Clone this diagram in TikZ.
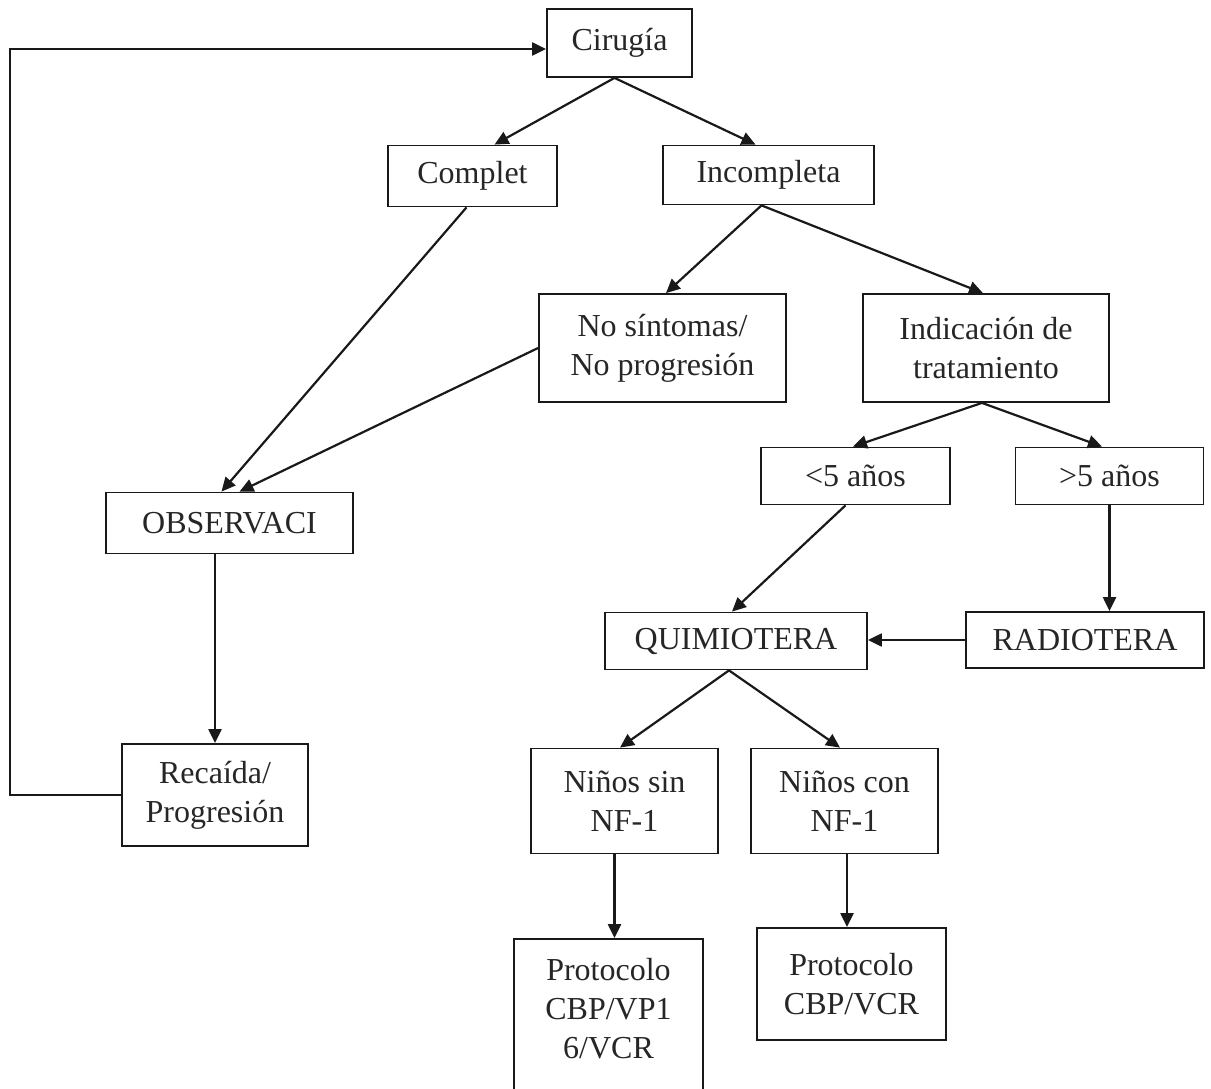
\documentclass[tikz,border=0pt]{standalone}
\usepackage{fontspec}
\setmainfont{Liberation Serif}
\usetikzlibrary{arrows.meta}
\tikzset{
  box/.style={draw=black!90, line width=1.8pt, fill=white, align=center, inner sep=2pt,
    font=\fontsize{32}{39}\selectfont, text=black!85},
  conn/.style={line width=2.2pt, draw=black!90, -{Triangle[length=14pt,width=13pt]}}
}
\begin{document}
\begin{tikzpicture}[x=1pt,y=-1pt]
\useasboundingbox (0,0) rectangle (1211,1089);
\clip (0,0) rectangle (1211,1089);
\node[box, minimum width=145pt, minimum height=68pt] (cir) at (619.5,43) {Cirugía};
\node[box, minimum width=169pt, minimum height=61pt] (com) at (472.5,176) {Complet};
\node[box, minimum width=211pt, minimum height=59pt] (inc) at (768.5,175) {Incompleta};
\node[box, minimum width=247pt, minimum height=108pt] (nos) at (662.5,348) {No síntomas/\\No progresión};
\node[box, minimum width=246pt, minimum height=108pt] (ind) at (986,348) {Indicación de\\tratamiento};
\node[box, minimum width=189pt, minimum height=57pt] (lt5) at (855.5,476) {<5 años};
\node[box, minimum width=188pt, minimum height=57pt] (gt5) at (1109.5,476) {>5 años};
\node[box, minimum width=247pt, minimum height=61pt] (obs) at (229.5,523) {OBSERVACI};
\node[box, minimum width=262pt, minimum height=57pt] (qui) at (736,641) {QUIMIOTERA};
\node[box, minimum width=238pt, minimum height=56pt] (rad) at (1085,640) {RADIOTERA};
\node[box, minimum width=186pt, minimum height=102pt] (rec) at (215,795) {Recaída/\\Progresión};
\node[box, minimum width=187pt, minimum height=105pt] (nsin) at (624.5,801) {Niños sin\\NF-1};
\node[box, minimum width=187pt, minimum height=105pt] (ncon) at (844.5,801) {Niños con\\NF-1};
\node[box, minimum width=189pt, minimum height=160pt] (p1) at (608.5,1019) {Protocolo\\CBP/VP1\\6/VCR\\[-18pt]};
\node[box, minimum width=189pt, minimum height=112pt] (p2) at (851.5,984) {Protocolo\\CBP/VCR};

\draw[conn] ([xshift=-5pt]cir.south) -- ([xshift=22pt]com.north);
\draw[conn] ([xshift=-5pt]cir.south) -- ([xshift=-13pt]inc.north);
\draw[conn] ([xshift=-6pt]com.south) -- ([xshift=-8pt]obs.north);
\draw[conn] (nos.west) -- ([xshift=10pt]obs.north);
\draw[conn] ([xshift=-7pt]inc.south) -- ([xshift=3.5pt]nos.north);
\draw[conn] ([xshift=-7pt]inc.south) -- ([xshift=-3pt]ind.north);
\draw[conn] ([xshift=-4pt]ind.south) -- ([xshift=-2.5pt]lt5.north);
\draw[conn] ([xshift=-4pt]ind.south) -- ([xshift=-7.5pt]gt5.north);
\draw[conn] ([xshift=-10pt]lt5.south) -- ([xshift=-4pt]qui.north);
\draw[conn] (gt5.south) -- (gt5.south |- rad.north);
\draw[conn] (rad.west) -- (rad.west -| qui.east);
\draw[conn] (rec.north |- obs.south) -- (rec.north);
\draw[conn] (rec.west) -- ++(-111,0) |- ([yshift=-6pt]cir.west);
\draw[conn] ([xshift=-7pt]qui.south) -- ([xshift=-4.5pt]nsin.north);
\draw[conn] ([xshift=-7pt]qui.south) -- ([xshift=-4.5pt]ncon.north);
\draw[conn] ([xshift=-10pt]nsin.south) -- ([xshift=-10pt]nsin.south |- p1.north);
\draw[conn] ([xshift=2.5pt]ncon.south) -- ([xshift=2.5pt]ncon.south |- p2.north);
\end{tikzpicture}
\end{document}
